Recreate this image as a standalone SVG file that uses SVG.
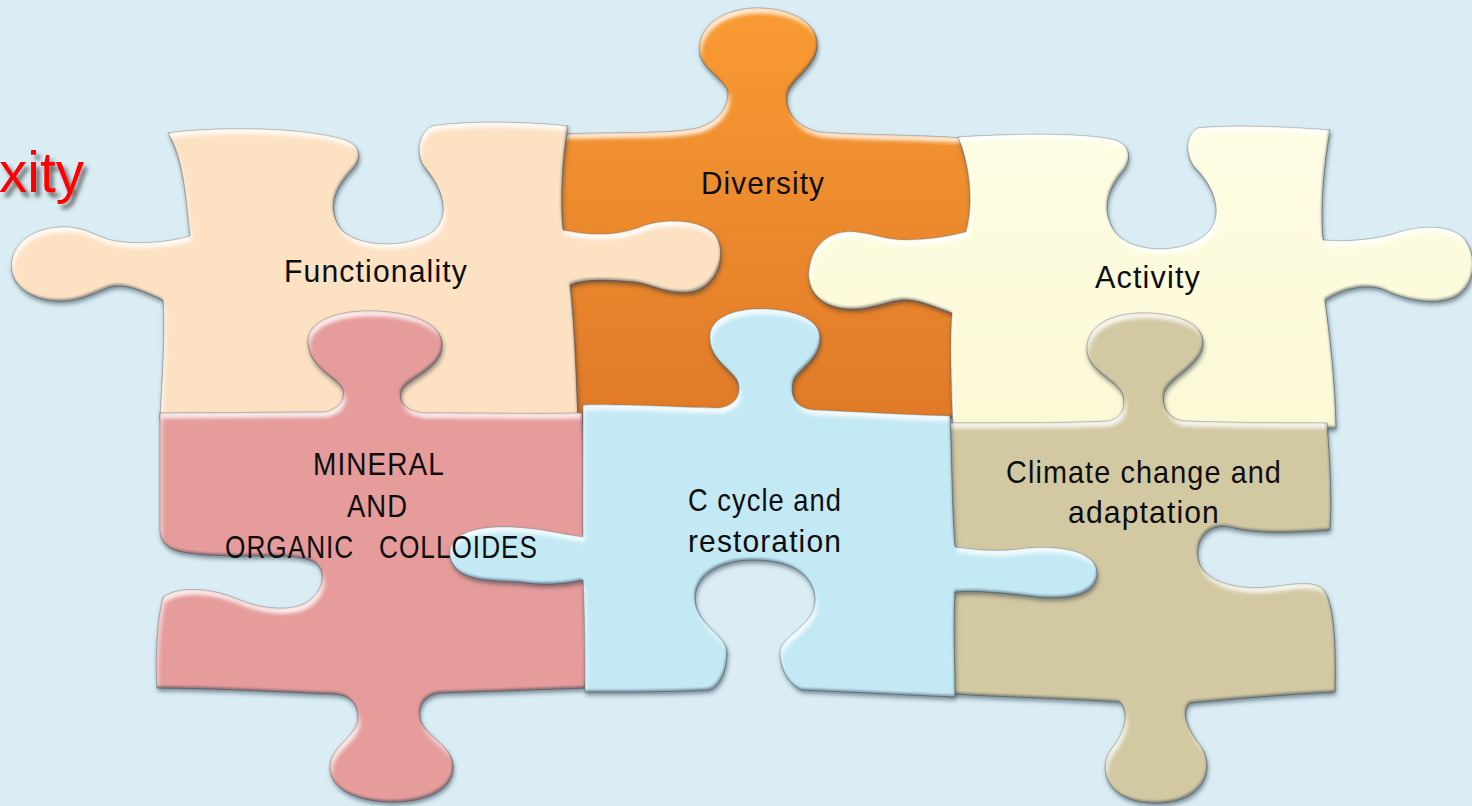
<svg xmlns="http://www.w3.org/2000/svg" width="1472" height="806" viewBox="0 0 1472 806">
  <defs>
    <style>
      .piece { stroke: #3b4a56; stroke-opacity: 0.5; stroke-width: 1; filter: url(#bevel); }
      .label { font-family: "Liberation Sans", Arial, sans-serif; font-size: 32px; fill: #0d0d0d; letter-spacing: 1.2px; }
      .title { font-family: "Liberation Sans", Arial, sans-serif; font-size: 58px; fill: #ff0000; filter: url(#textShadow); }
    </style>
    <linearGradient id="orangeFill" x1="0" y1="0" x2="0" y2="1">
      <stop offset="0" stop-color="#f99b33"/>
      <stop offset="1" stop-color="#e07a28"/>
    </linearGradient>
    <linearGradient id="creamFill" x1="0" y1="0" x2="0" y2="1">
      <stop offset="0" stop-color="#fefde4"/>
      <stop offset="1" stop-color="#fbf9d5"/>
    </linearGradient>
    <!-- raised rim: light on the upper edges, dark on the lower ones, soft cast shadow -->
    <filter id="bevel" color-interpolation-filters="sRGB">
      <feOffset in="SourceAlpha" dx="1.5" dy="5" result="a1"/>
      <feComposite in="SourceAlpha" in2="a1" operator="out" result="rimTop"/>
      <feGaussianBlur in="rimTop" stdDeviation="2" result="rimTopB"/>
      <feComposite in="rimTopB" in2="SourceAlpha" operator="in" result="rimTopC"/>
      <feFlood flood-color="#ffffff" flood-opacity="1"/>
      <feComposite in2="rimTopC" operator="in" result="hi"/>
      <feOffset in="SourceAlpha" dx="-1" dy="-2.5" result="a2"/>
      <feComposite in="SourceAlpha" in2="a2" operator="out" result="rimBot"/>
      <feGaussianBlur in="rimBot" stdDeviation="0.9" result="rimBotB"/>
      <feComposite in="rimBotB" in2="SourceAlpha" operator="in" result="rimBotC"/>
      <feFlood flood-color="#2a3a48" flood-opacity="0.6"/>
      <feComposite in2="rimBotC" operator="in" result="sh"/>
      <feOffset in="SourceAlpha" dx="1" dy="3" result="d0"/>
      <feGaussianBlur in="d0" stdDeviation="2.2" result="d1"/>
      <feFlood flood-color="#1b2c3a" flood-opacity="0.5"/>
      <feComposite in2="d1" operator="in" result="drop"/>
      <feMerge>
        <feMergeNode in="drop"/>
        <feMergeNode in="SourceGraphic"/>
        <feMergeNode in="hi"/>
        <feMergeNode in="sh"/>
      </feMerge>
    </filter>
    <filter id="textShadow" x="-20%" y="-20%" width="140%" height="150%">
      <feDropShadow dx="4" dy="5" stdDeviation="2" flood-color="#3c3c3c" flood-opacity="0.75"/>
    </filter>
  </defs>

  <rect x="0" y="0" width="1472" height="806" fill="#daedf4"/>

  <text class="title" x="-1" y="192" textLength="85" lengthAdjust="spacingAndGlyphs">xity</text>

  <!-- Diversity: lowest layer, its neighbours' tabs sit on top of it -->
  <g id="piece-diversity">
    <path class="piece" fill="url(#orangeFill)" d="M558,134 C620,132 670,134 697,128 C712,124 728,112 728,93 C728,82 705,72 700,55 C695,25 725,8 757,8 C790,8 820,22 817,48 C815,68 790,80 787,95 C785,115 800,128 820,132 C870,136 930,134 985,140 L985,418 L556,418 Z"/>
    <text class="label" x="701" y="194" textLength="124" lengthAdjust="spacingAndGlyphs">Diversity</text>
  </g>

  <!-- Functionality -->
  <g id="piece-functionality">
    <path class="piece" fill="#fde1c3" d="M168,133 C210,127 300,126 345,140 C362,146 362,160 352,170 C338,185 325,205 340,228 C355,248 410,250 435,230 C452,212 440,185 425,168 C415,155 418,133 432,126 C470,120 530,122 568,126 C562,160 560,200 563,230 C590,236 615,236 638,228 C660,218 700,218 715,235 C728,252 718,288 690,292 C665,294 652,284 635,282 C612,280 585,278 570,285 C575,330 576,380 578,418 L160,418 C163,370 165,330 163,300 C140,290 125,283 110,287 C95,292 80,302 58,301 C25,300 8,280 12,260 C16,238 40,226 67,227 C88,228 98,238 115,241 C140,245 170,242 190,236 C186,200 184,160 168,133 Z"/>
    <text class="label" x="284" y="282" textLength="184" lengthAdjust="spacingAndGlyphs">Functionality</text>
  </g>

  <!-- Activity -->
  <g id="piece-activity">
    <path class="piece" fill="url(#creamFill)" d="M958,137 C1010,134 1080,132 1115,140 C1130,145 1132,158 1124,170 C1108,188 1100,210 1115,232 C1132,255 1190,255 1210,230 C1225,210 1210,182 1195,168 C1185,155 1185,135 1198,128 C1240,124 1300,128 1330,130 C1324,165 1320,205 1323,240 C1345,242 1370,240 1390,235 C1410,228 1440,222 1460,235 C1478,250 1478,285 1455,297 C1435,306 1405,300 1385,290 C1365,282 1340,290 1325,300 C1330,340 1335,380 1336,428 L953,428 C951,380 950,340 952,313 C930,305 915,298 900,300 C880,303 865,312 840,308 C815,303 805,285 810,265 C815,240 835,230 855,232 C875,234 885,240 905,240 C930,240 950,236 966,232 C975,200 968,160 958,137 Z"/>
    <text class="label" x="1095" y="288" textLength="106" lengthAdjust="spacingAndGlyphs">Activity</text>
  </g>

  <!-- Mineral and organic colloides -->
  <g id="piece-colloides">
    <path class="piece" fill="#e59c9b" d="M160,413 L325,412 C340,408 345,400 343,390 C340,378 310,370 308,343 C306,320 340,310 373,311 C410,312 442,322 442,345 C442,370 405,378 401,392 C398,405 410,412 425,413 C480,413 540,414 582,413 C584,450 586,490 588,523 L592,585 C594,620 592,660 585,688 C530,690 470,692 440,693 C425,695 418,705 420,718 C423,735 452,745 453,765 C455,790 425,802 393,802 C360,802 328,790 330,765 C332,745 358,735 358,718 C358,703 350,695 335,694 C280,692 210,688 157,688 C155,660 157,620 163,597 C175,588 205,585 240,600 C265,610 295,612 310,600 C325,588 326,570 315,562 C300,554 270,556 250,556 C220,556 190,555 175,550 C165,546 160,540 160,530 C160,490 160,450 160,413 Z"/>
  </g>

  <!-- Climate change and adaptation -->
  <g id="piece-climate">
    <path class="piece" fill="#d2c9a3" d="M940,423 C1010,423 1070,423 1108,421 C1122,418 1126,408 1123,395 C1118,380 1088,372 1087,350 C1086,325 1112,313 1143,313 C1175,313 1203,322 1203,343 C1203,365 1168,378 1164,393 C1161,408 1170,420 1185,421 C1240,423 1290,423 1327,423 C1330,460 1332,500 1330,530 C1300,532 1260,535 1230,527 C1205,522 1192,545 1200,565 C1210,585 1245,590 1270,587 C1290,585 1310,580 1322,588 C1335,600 1336,650 1335,692 C1290,694 1220,700 1190,703 C1180,712 1188,730 1200,745 C1215,765 1208,802 1157,803 C1105,803 1097,768 1112,748 C1125,732 1130,712 1120,702 C1060,698 1000,697 954,694 L946,690 Z"/>
    <text class="label" x="1006" y="483" textLength="276" lengthAdjust="spacingAndGlyphs">Climate change and</text>
    <text class="label" x="1068" y="523" textLength="152" lengthAdjust="spacingAndGlyphs">adaptation</text>
  </g>

  <!-- C cycle and restoration: top layer, tabs reach into four neighbours -->
  <g id="piece-ccycle">
    <path class="piece" fill="#c3e9f4" d="M583,405 C630,404 690,408 720,408 C738,405 742,392 737,380 C730,368 708,358 710,335 C712,315 740,308 765,309 C795,310 822,320 820,340 C818,362 796,370 793,382 C790,396 795,408 813,410 C860,412 910,415 950,416 C952,460 952,510 955,547 C975,550 995,552 1020,549 C1050,545 1095,548 1097,572 C1098,598 1060,600 1030,596 C1005,593 975,590 955,592 C953,630 955,660 955,697 C910,695 850,692 802,690 C790,685 780,670 780,653 C780,635 818,625 815,597 C812,570 785,560 753,560 C720,560 695,575 695,598 C695,625 727,635 727,652 C727,670 720,688 708,690 C670,692 630,692 585,692 C585,660 585,620 583,580 C560,585 540,585 520,582 C490,580 455,582 450,556 C447,532 480,526 510,527 C540,528 565,535 583,537 C583,490 583,450 583,405 Z"/>
    <text class="label" x="688" y="511" textLength="154" lengthAdjust="spacingAndGlyphs">C cycle and</text>
    <text class="label" x="688" y="552" textLength="154" lengthAdjust="spacingAndGlyphs">restoration</text>
  </g>

  <!-- colloid caption sits above the neighbouring tab -->
  <g id="label-colloides">
    <text class="label" x="313" y="475" textLength="132" lengthAdjust="spacingAndGlyphs">MINERAL</text>
    <text class="label" x="347" y="517" textLength="61" lengthAdjust="spacingAndGlyphs">AND</text>
    <text class="label" x="225" y="558" textLength="313" lengthAdjust="spacingAndGlyphs" xml:space="preserve">ORGANIC   COLLOIDES</text>
  </g>
</svg>
